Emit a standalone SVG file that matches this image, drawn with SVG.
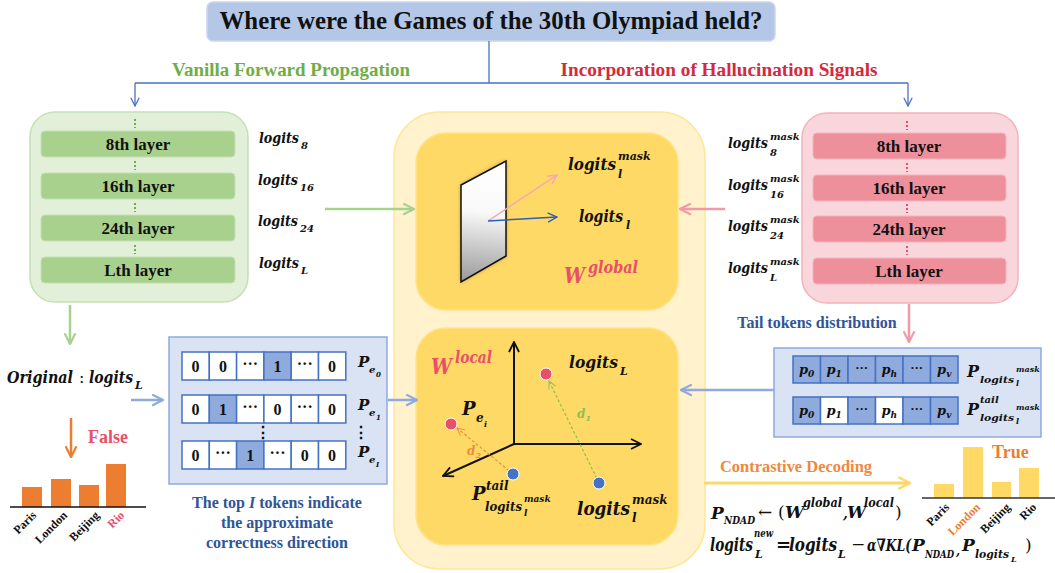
<svg xmlns="http://www.w3.org/2000/svg" width="1055" height="573" viewBox="0 0 1055 573">
<style>
.t{font-family:"Liberation Serif","Times New Roman",serif;font-weight:bold}
.m{font-family:"DejaVu Serif",serif;font-weight:bold;font-style:italic;fill:#111}
.c{text-anchor:middle}
.lay{fill:#111;font-size:17px}
.cell{fill:#fff;stroke:#4472C4;stroke-width:1.5}
.hl{fill:#8FAADC;stroke:#4472C4;stroke-width:1.5}
.num{font-size:16px;fill:#111;text-anchor:middle}
.bar-o{fill:#ED7D31}
.bar-y{fill:#FFD966}
.lbl{font-size:12px;fill:#111;text-anchor:end}
.red{fill:#E8506A}
</style>
<defs>
<marker id="aB" viewBox="0 0 12 12" refX="11" refY="6" markerWidth="10" markerHeight="10" orient="auto" markerUnits="userSpaceOnUse"><path d="M1,1 L11,6 L1,11" fill="none" stroke="#4472C4" stroke-width="1.5"/></marker>
<marker id="aG" viewBox="0 0 12 12" refX="11" refY="6" markerWidth="13" markerHeight="13" orient="auto" markerUnits="userSpaceOnUse"><path d="M1,1 L11,6 L1,11" fill="none" stroke="#A9D18E" stroke-width="2"/></marker>
<marker id="aP" viewBox="0 0 12 12" refX="11" refY="6" markerWidth="13" markerHeight="13" orient="auto" markerUnits="userSpaceOnUse"><path d="M1,1 L11,6 L1,11" fill="none" stroke="#F19AA5" stroke-width="2"/></marker>
<marker id="aL" viewBox="0 0 12 12" refX="11" refY="6" markerWidth="13" markerHeight="13" orient="auto" markerUnits="userSpaceOnUse"><path d="M1,1 L11,6 L1,11" fill="none" stroke="#8FAADC" stroke-width="2"/></marker>
<marker id="aO" viewBox="0 0 12 12" refX="11" refY="6" markerWidth="13" markerHeight="13" orient="auto" markerUnits="userSpaceOnUse"><path d="M1,1 L11,6 L1,11" fill="none" stroke="#ED7D31" stroke-width="2"/></marker>
<marker id="aY" viewBox="0 0 12 12" refX="11" refY="6" markerWidth="14" markerHeight="14" orient="auto" markerUnits="userSpaceOnUse"><path d="M1,1 L11,6 L1,11" fill="none" stroke="#FFD966" stroke-width="2"/></marker>
<marker id="aK" viewBox="0 0 12 12" refX="11" refY="6" markerWidth="12" markerHeight="12" orient="auto" markerUnits="userSpaceOnUse"><path d="M1,1 L11,6 L1,11" fill="none" stroke="#111" stroke-width="1.8"/></marker>
<marker id="aV1" viewBox="0 0 12 12" refX="11" refY="6" markerWidth="11" markerHeight="11" orient="auto" markerUnits="userSpaceOnUse"><path d="M1,1 L11,6 L1,11" fill="none" stroke="#F4A6B4" stroke-width="1.5"/></marker>
<marker id="aV2" viewBox="0 0 12 12" refX="11" refY="6" markerWidth="11" markerHeight="11" orient="auto" markerUnits="userSpaceOnUse"><path d="M1,1 L11,6 L1,11" fill="none" stroke="#2F5FB0" stroke-width="1.5"/></marker>
<marker id="aD1" viewBox="0 0 12 12" refX="11" refY="6" markerWidth="9" markerHeight="9" orient="auto" markerUnits="userSpaceOnUse"><path d="M1,1 L11,6 L1,11" fill="none" stroke="#8CC152" stroke-width="1.3"/></marker>
<marker id="aD2" viewBox="0 0 12 12" refX="11" refY="6" markerWidth="9" markerHeight="9" orient="auto" markerUnits="userSpaceOnUse"><path d="M1,1 L11,6 L1,11" fill="none" stroke="#F08C3C" stroke-width="1.3"/></marker>
<linearGradient id="mirrorShade" gradientUnits="userSpaceOnUse" x1="484" y1="165" x2="472" y2="282"><stop offset="0" stop-color="#888888" stop-opacity="0"/><stop offset="0.4" stop-color="#888888" stop-opacity="0.05"/><stop offset="1" stop-color="#888888" stop-opacity="0.85"/></linearGradient>
<filter id="blur" x="-30%" y="-30%" width="160%" height="160%"><feGaussianBlur stdDeviation="2"/></filter>
</defs>

<!-- Title -->
<g id="title">
<rect x="207" y="2" width="568" height="39" rx="6" fill="#B4C7E7" stroke="#C9D6EE" stroke-width="1.5"/>
<text class="t c" x="491" y="29" font-size="25" fill="#111" textLength="543" lengthAdjust="spacingAndGlyphs">Where were the Games of the 30th Olympiad held?</text>
</g>

<g id="branch-labels">
<text class="t c" x="291" y="76" font-size="19" fill="#70AD47" textLength="238" lengthAdjust="spacingAndGlyphs">Vanilla Forward Propagation</text>
<text class="t c" x="719" y="76" font-size="19" fill="#D42A3E" textLength="317" lengthAdjust="spacingAndGlyphs">Incorporation of Hallucination Signals</text>
</g>

<!-- Green model -->
<g id="vanilla-model">
<rect x="30" y="112" width="218" height="190" rx="25" fill="#E2F0D9" stroke="#C5E0B4" stroke-width="1.5"/>
<g fill="#A9D18E" stroke="#C5E0B4" stroke-width="1">
<rect x="41" y="131" width="194" height="26" rx="4"/>
<rect x="41" y="173" width="194" height="26" rx="4"/>
<rect x="41" y="215" width="194" height="26" rx="4"/>
<rect x="41" y="257" width="194" height="26" rx="4"/>
</g>
<g stroke="#70AD47" stroke-width="2" stroke-dasharray="2,2">
<line x1="135" y1="119" x2="135" y2="128"/>
<line x1="135" y1="161" x2="135" y2="170"/>
<line x1="135" y1="203" x2="135" y2="212"/>
<line x1="135" y1="245" x2="135" y2="254"/>
</g>
<text class="t c lay" x="138" y="150">8th layer</text>
<text class="t c lay" x="138" y="192">16th layer</text>
<text class="t c lay" x="138" y="234">24th layer</text>
<text class="t c lay" x="138" y="276">Lth layer</text>
</g>

<g id="vanilla-logits">
<text class="m" x="259" y="143" font-size="15" textLength="40" lengthAdjust="spacingAndGlyphs">logits</text><text class="m" x="301" y="149" font-size="10">8</text>
<text class="m" x="258" y="185" font-size="15" textLength="40" lengthAdjust="spacingAndGlyphs">logits</text><text class="m" x="300" y="191" font-size="10">16</text>
<text class="m" x="258" y="226" font-size="15" textLength="40" lengthAdjust="spacingAndGlyphs">logits</text><text class="m" x="300" y="232" font-size="10">24</text>
<text class="m" x="259" y="268" font-size="15" textLength="40" lengthAdjust="spacingAndGlyphs">logits</text><text class="m" x="301" y="274" font-size="10">L</text>
</g>

<!-- Pink model -->
<g id="mask-model">
<rect x="802" y="113" width="216" height="190" rx="25" fill="#F9D6DB" stroke="#F4B3BC" stroke-width="1.5"/>
<g fill="#EE909C" stroke="#F4B3BC" stroke-width="1">
<rect x="813" y="133" width="193" height="26" rx="4"/>
<rect x="813" y="175" width="193" height="26" rx="4"/>
<rect x="813" y="216" width="193" height="26" rx="4"/>
<rect x="813" y="258" width="193" height="26" rx="4"/>
</g>
<g stroke="#E8506A" stroke-width="2" stroke-dasharray="2,2">
<line x1="907" y1="121" x2="907" y2="130"/>
<line x1="907" y1="163" x2="907" y2="172"/>
<line x1="907" y1="204" x2="907" y2="213"/>
<line x1="907" y1="246" x2="907" y2="255"/>
</g>
<text class="t c lay" x="909" y="152">8th layer</text>
<text class="t c lay" x="909" y="194">16th layer</text>
<text class="t c lay" x="909" y="235">24th layer</text>
<text class="t c lay" x="909" y="277">Lth layer</text>
</g>

<g id="mask-logits">
<text class="m" x="728" y="148" font-size="15" textLength="40" lengthAdjust="spacingAndGlyphs">logits</text><text class="m" x="770" y="140" font-size="10">mask</text><text class="m" x="770" y="156" font-size="10">8</text>
<text class="m" x="728" y="190" font-size="15" textLength="40" lengthAdjust="spacingAndGlyphs">logits</text><text class="m" x="770" y="182" font-size="10">mask</text><text class="m" x="770" y="198" font-size="10">16</text>
<text class="m" x="728" y="231" font-size="15" textLength="40" lengthAdjust="spacingAndGlyphs">logits</text><text class="m" x="770" y="223" font-size="10">mask</text><text class="m" x="770" y="239" font-size="10">24</text>
<text class="m" x="728" y="273" font-size="15" textLength="40" lengthAdjust="spacingAndGlyphs">logits</text><text class="m" x="770" y="265" font-size="10">mask</text><text class="m" x="770" y="281" font-size="10">L</text>
</g>

<!-- Center container -->
<g id="ndad-core">
<rect x="394" y="112" width="311" height="457" rx="45" fill="#FFF2CC" stroke="#FFE699" stroke-width="1.5"/>
</g>

<g id="global-panel">
<rect x="416" y="133" width="262" height="177" rx="30" fill="#FFD966" stroke="#FFE38A" stroke-width="1.5"/>
<polygon points="461,185 506,161 506,256 461,282" fill="#000000" fill-opacity="0.35" filter="url(#blur)"/>
<polygon points="461,185 506,161 506,256 461,282" fill="#FFFFFF"/>
<polygon points="461,185 506,161 506,256 461,282" fill="url(#mirrorShade)" stroke="#111" stroke-width="1.5"/>
<line x1="488" y1="221" x2="557" y2="175" stroke="#F4A6B4" stroke-width="1.5" marker-end="url(#aV1)"/>
<line x1="488" y1="221" x2="557" y2="217" stroke="#2F5FB0" stroke-width="1.5" marker-end="url(#aV2)"/>
<text class="m" x="568" y="170" font-size="17" textLength="48" lengthAdjust="spacingAndGlyphs">logits</text><text class="m" x="618" y="160" font-size="11">mask</text><text class="m" x="618" y="178" font-size="11">l</text>
<text class="m" x="579" y="222" font-size="17" textLength="44" lengthAdjust="spacingAndGlyphs">logits</text><text class="m" x="626" y="229" font-size="11">l</text>
<text class="m red" x="564" y="283" font-size="23" textLength="21" lengthAdjust="spacingAndGlyphs" style="fill:#E8506A">W</text><text class="m red" x="588" y="273" font-size="16" style="fill:#E8506A" textLength="50" lengthAdjust="spacingAndGlyphs">global</text>
</g>

<g id="local-panel">
<rect x="416" y="328" width="262" height="217" rx="30" fill="#FFD966" stroke="#FFE38A" stroke-width="1.5"/>
<line x1="514" y1="444" x2="514" y2="342" stroke="#111" stroke-width="2" marker-end="url(#aK)"/>
<line x1="514" y1="444" x2="641" y2="444" stroke="#111" stroke-width="2" marker-end="url(#aK)"/>
<line x1="514" y1="444" x2="443" y2="476" stroke="#111" stroke-width="2" marker-end="url(#aK)"/>
<line x1="599" y1="483" x2="549" y2="381" stroke="#8CC152" stroke-width="1.2" stroke-dasharray="3,2" marker-end="url(#aD1)"/>
<line x1="513" y1="474" x2="457" y2="428" stroke="#F08C3C" stroke-width="1.2" stroke-dasharray="3,2" marker-end="url(#aD2)"/>
<circle cx="546" cy="374" r="6" fill="#E8506A" stroke="#fff" stroke-width="1"/>
<circle cx="451" cy="424" r="6" fill="#E8506A" stroke="#fff" stroke-width="1"/>
<circle cx="513" cy="474" r="6" fill="#4472C4" stroke="#fff" stroke-width="1"/>
<circle cx="599" cy="483" r="6" fill="#4472C4" stroke="#fff" stroke-width="1"/>
<text class="m" x="577" y="418" font-size="12" style="fill:#8CC152">d<tspan font-size="8" dy="3">1</tspan></text>
<text class="m" x="467" y="455" font-size="12" style="fill:#F08C3C">d<tspan font-size="8" dy="3">2</tspan></text>
<text class="m" x="431" y="374" font-size="23" textLength="21" lengthAdjust="spacingAndGlyphs" style="fill:#E8506A">W</text><text class="m" x="455" y="363" font-size="16" style="fill:#E8506A" textLength="37" lengthAdjust="spacingAndGlyphs">local</text>
<text class="m" x="569" y="368" font-size="17" textLength="49" lengthAdjust="spacingAndGlyphs">logits</text><text class="m" x="620" y="375" font-size="11">L</text>
<text class="m" x="462" y="415" font-size="18">P</text><text class="m" x="476" y="422" font-size="12">e</text><text class="m" x="484" y="427" font-size="8">i</text>
<text class="m" x="472" y="500" font-size="18">P</text><text class="m" x="486" y="490" font-size="12">tail</text><text class="m" x="485" y="511" font-size="12" textLength="37" lengthAdjust="spacingAndGlyphs">logits</text><text class="m" x="524" y="502" font-size="9">mask</text><text class="m" x="524" y="516" font-size="9">l</text>
<text class="m" x="577" y="515" font-size="19" textLength="53" lengthAdjust="spacingAndGlyphs">logits</text><text class="m" x="632" y="504" font-size="12">mask</text><text class="m" x="632" y="522" font-size="12">l</text>
</g>

<!-- Top-I tokens box -->
<g id="top-tokens">
<rect x="169" y="337" width="218" height="147" fill="#DAE3F3" stroke="#8FAADC" stroke-width="1.5"/>
<rect class="cell" x="182" y="352" width="27.3" height="28"/><rect class="cell" x="209.3" y="352" width="27.3" height="28"/><rect class="cell" x="236.6" y="352" width="27.3" height="28"/><rect class="hl" x="263.9" y="352" width="27.3" height="28"/><rect class="cell" x="291.2" y="352" width="27.3" height="28"/><rect class="cell" x="318.5" y="352" width="27.3" height="28"/>
<rect class="cell" x="182" y="395" width="27.3" height="28"/><rect class="hl" x="209.3" y="395" width="27.3" height="28"/><rect class="cell" x="236.6" y="395" width="27.3" height="28"/><rect class="cell" x="263.9" y="395" width="27.3" height="28"/><rect class="cell" x="291.2" y="395" width="27.3" height="28"/><rect class="cell" x="318.5" y="395" width="27.3" height="28"/>
<rect class="cell" x="182" y="441" width="27.3" height="28"/><rect class="cell" x="209.3" y="441" width="27.3" height="28"/><rect class="hl" x="236.6" y="441" width="27.3" height="28"/><rect class="cell" x="263.9" y="441" width="27.3" height="28"/><rect class="cell" x="291.2" y="441" width="27.3" height="28"/><rect class="cell" x="318.5" y="441" width="27.3" height="28"/>
<g class="t">
<text class="num" x="195.6" y="372">0</text><text class="num" x="222.9" y="372">0</text><text class="num" x="250.2" y="369">···</text><text class="num" x="277.5" y="372">1</text><text class="num" x="304.8" y="369">···</text><text class="num" x="332.1" y="372">0</text>
<text class="num" x="195.6" y="415">0</text><text class="num" x="222.9" y="415">1</text><text class="num" x="250.2" y="412">···</text><text class="num" x="277.5" y="415">0</text><text class="num" x="304.8" y="412">···</text><text class="num" x="332.1" y="415">0</text>
<text class="num" x="195.6" y="461">0</text><text class="num" x="222.9" y="458">···</text><text class="num" x="250.2" y="461">1</text><text class="num" x="277.5" y="458">···</text><text class="num" x="304.8" y="461">0</text><text class="num" x="332.1" y="461">0</text>
</g>
<text class="t" x="263" y="438" font-size="16" fill="#111" text-anchor="middle">⋮</text>
<text class="t" x="361" y="438" font-size="16" fill="#111" text-anchor="middle">⋮</text>
<text class="m" x="358" y="367" font-size="15">P</text><text class="m" x="369" y="373" font-size="10">e</text><text class="m" x="376" y="377" font-size="7">0</text>
<text class="m" x="358" y="410" font-size="15">P</text><text class="m" x="369" y="416" font-size="10">e</text><text class="m" x="376" y="420" font-size="7">1</text>
<text class="m" x="358" y="457" font-size="15">P</text><text class="m" x="369" y="463" font-size="10">e</text><text class="m" x="376" y="467" font-size="7">I</text>
<text class="t c" x="277" y="508" font-size="16" fill="#2F5597">The top <tspan font-style="italic">I</tspan>  tokens indicate</text>
<text class="t c" x="277" y="528" font-size="16" fill="#2F5597">the approximate</text>
<text class="t c" x="277" y="548" font-size="16" fill="#2F5597">correctness direction</text>
</g>

<!-- Tail tokens box -->
<g id="tail-tokens">
<text class="t c" x="817" y="328" font-size="16" fill="#2F5597">Tail tokens distribution</text>
<rect x="774" y="348" width="267" height="89" fill="#DAE3F3" stroke="#8FAADC" stroke-width="1.5"/>
<rect class="hl" x="793" y="356" width="27.5" height="27"/><rect class="hl" x="820.5" y="356" width="27.5" height="27"/><rect class="hl" x="848" y="356" width="27.5" height="27"/><rect class="hl" x="875.5" y="356" width="27.5" height="27"/><rect class="hl" x="903" y="356" width="27.5" height="27"/><rect class="hl" x="930.5" y="356" width="27.5" height="27"/>
<rect class="hl" x="793" y="397" width="27.5" height="27"/><rect class="cell" x="820.5" y="397" width="27.5" height="27"/><rect class="hl" x="848" y="397" width="27.5" height="27"/><rect class="cell" x="875.5" y="397" width="27.5" height="27"/><rect class="hl" x="903" y="397" width="27.5" height="27"/><rect class="hl" x="930.5" y="397" width="27.5" height="27"/>
<g font-size="13">
<text class="m c" x="806.7" y="374">p<tspan font-size="9" dy="3">0</tspan></text><text class="m c" x="834.2" y="374">p<tspan font-size="9" dy="3">1</tspan></text><text class="t c" x="861.7" y="372" fill="#111">···</text><text class="m c" x="889.2" y="374">p<tspan font-size="9" dy="3">h</tspan></text><text class="t c" x="916.7" y="372" fill="#111">···</text><text class="m c" x="944.2" y="374">p<tspan font-size="9" dy="3">v</tspan></text>
<text class="m c" x="806.7" y="415">p<tspan font-size="9" dy="3">0</tspan></text><text class="m c" x="834.2" y="415">p<tspan font-size="9" dy="3">1</tspan></text><text class="t c" x="861.7" y="413" fill="#111">···</text><text class="m c" x="889.2" y="415">p<tspan font-size="9" dy="3">h</tspan></text><text class="t c" x="916.7" y="413" fill="#111">···</text><text class="m c" x="944.2" y="415">p<tspan font-size="9" dy="3">v</tspan></text>
</g>
<text class="m" x="967" y="377" font-size="16">P</text><text class="m" x="980" y="383" font-size="10" textLength="34" lengthAdjust="spacingAndGlyphs">logits</text><text class="m" x="1016" y="372" font-size="8">mask</text><text class="m" x="1016" y="386" font-size="8">l</text>
<text class="m" x="967" y="415" font-size="16">P</text><text class="m" x="980" y="403" font-size="10">tail</text><text class="m" x="980" y="421" font-size="10" textLength="34" lengthAdjust="spacingAndGlyphs">logits</text><text class="m" x="1016" y="410" font-size="8">mask</text><text class="m" x="1016" y="424" font-size="8">l</text>
</g>

<!-- Original chart -->
<g id="original-chart">
<text class="m" x="7" y="383" font-size="16" textLength="66" lengthAdjust="spacingAndGlyphs">Original</text><text x="79" y="383" font-size="16" font-family="DejaVu Serif, serif" fill="#111">:</text>
<text class="m" x="89" y="383" font-size="16" textLength="44" lengthAdjust="spacingAndGlyphs">logits</text><text class="m" x="135" y="389" font-size="11">L</text>
<text class="t" x="88" y="443" font-size="18" fill="#E8506A">False</text>
<rect class="bar-o" x="22" y="487" width="20" height="20"/>
<rect class="bar-o" x="51" y="479" width="20" height="28"/>
<rect class="bar-o" x="79" y="485" width="20" height="22"/>
<rect class="bar-o" x="106" y="464" width="20" height="43"/>
<line x1="10" y1="507" x2="146" y2="507" stroke="#111" stroke-width="1.5"/>
<text class="t lbl" transform="translate(37,516) rotate(-45)">Paris</text>
<text class="t lbl" transform="translate(68,516) rotate(-45)">London</text>
<text class="t lbl" transform="translate(100,516) rotate(-45)">Beijing</text>
<text class="t lbl" transform="translate(125,516) rotate(-45)" style="fill:#E8506A">Rio</text>
</g>

<!-- Result chart and formulas -->
<g id="result-chart">
<text class="t" x="720" y="472" font-size="17" fill="#F0883E" textLength="152" lengthAdjust="spacingAndGlyphs">Contrastive Decoding</text>
<text class="t" x="992" y="458" font-size="18" fill="#ED7D31">True</text>
<rect class="bar-y" x="934" y="484" width="20" height="14"/>
<rect class="bar-y" x="963" y="447" width="20" height="51"/>
<rect class="bar-y" x="992" y="482" width="19" height="16"/>
<rect class="bar-y" x="1019" y="468" width="20" height="30"/>
<line x1="922" y1="498" x2="1055" y2="498" stroke="#333" stroke-width="1.5"/>
<text class="t lbl" transform="translate(950,508) rotate(-45)">Paris</text>
<text class="t lbl" transform="translate(981,508) rotate(-45)" style="fill:#ED7D31">London</text>
<text class="t lbl" transform="translate(1011,508) rotate(-45)">Beijing</text>
<text class="t lbl" transform="translate(1037,508) rotate(-45)">Rio</text>
</g>

<g id="formulas">
<text class="m" x="711" y="519" font-size="17">P</text><text class="m" x="724" y="524" font-size="11" textLength="31" lengthAdjust="spacingAndGlyphs">NDAD</text>
<text x="758" y="518" font-size="17" font-family="DejaVu Serif, serif" fill="#111">←</text>
<text x="778" y="518" font-size="17" font-family="DejaVu Serif, serif" fill="#111">(</text>
<text class="m" x="785" y="518" font-size="17">W</text><text class="m" x="803" y="507" font-size="12" textLength="39" lengthAdjust="spacingAndGlyphs">global</text><text class="m" x="843" y="518" font-size="14">,</text>
<text class="m" x="847" y="518" font-size="17">W</text><text class="m" x="864" y="507" font-size="12" textLength="30" lengthAdjust="spacingAndGlyphs">local</text>
<text x="895" y="518" font-size="17" font-family="DejaVu Serif, serif" fill="#111">)</text>
<text class="m" x="710" y="551" font-size="18" textLength="43" lengthAdjust="spacingAndGlyphs">logits</text><text class="m" x="754" y="537" font-size="11" textLength="19" lengthAdjust="spacingAndGlyphs">new</text><text class="m" x="755" y="558" font-size="11">L</text>
<text class="m" x="776" y="551" font-size="18">=</text>
<text class="m" x="789" y="551" font-size="18" textLength="48" lengthAdjust="spacingAndGlyphs">logits</text><text class="m" x="838" y="558" font-size="11">L</text>
<text x="851" y="550" font-size="17" font-family="DejaVu Serif, serif" fill="#111">−</text>
<text class="m" x="867" y="551" font-size="17" textLength="44" lengthAdjust="spacingAndGlyphs">α∇KL(</text>
<text class="m" x="912" y="551" font-size="17">P</text><text class="m" x="925" y="558" font-size="11" textLength="29" lengthAdjust="spacingAndGlyphs">NDAD</text><text class="m" x="956" y="555" font-size="12">,</text>
<text class="m" x="962" y="551" font-size="17">P</text><text class="m" x="975" y="558" font-size="11" textLength="34" lengthAdjust="spacingAndGlyphs">logits</text><text class="m" x="1011" y="562" font-size="8">L</text>
<text x="1025" y="551" font-size="17" font-family="DejaVu Serif, serif" fill="#111">)</text>
</g>

<!-- Connectors -->
<g id="connectors" fill="none">
<polyline points="489,41 489,83" stroke="#4472C4" stroke-width="1.3"/>
<polyline points="135,83 908,83" stroke="#4472C4" stroke-width="1.3"/>
<line x1="135" y1="83" x2="135" y2="106" stroke="#4472C4" stroke-width="1.3" marker-end="url(#aB)"/>
<line x1="908" y1="83" x2="908" y2="106" stroke="#4472C4" stroke-width="1.3" marker-end="url(#aB)"/>
<line x1="325" y1="209" x2="414" y2="209" stroke="#A9D18E" stroke-width="2.5" marker-end="url(#aG)"/>
<line x1="725" y1="209" x2="680" y2="209" stroke="#F19AA5" stroke-width="2.5" marker-end="url(#aP)"/>
<line x1="70" y1="305" x2="70" y2="344" stroke="#A9D18E" stroke-width="2.5" marker-end="url(#aG)"/>
<line x1="909" y1="304" x2="909" y2="342" stroke="#F19AA5" stroke-width="2.5" marker-end="url(#aP)"/>
<line x1="131" y1="400" x2="163" y2="400" stroke="#8FAADC" stroke-width="2.5" marker-end="url(#aL)"/>
<line x1="388" y1="400" x2="417" y2="400" stroke="#8FAADC" stroke-width="2.5" marker-end="url(#aL)"/>
<line x1="774" y1="390" x2="681" y2="390" stroke="#8FAADC" stroke-width="2.5" marker-end="url(#aL)"/>
<line x1="71" y1="418" x2="71" y2="457" stroke="#ED7D31" stroke-width="2.5" marker-end="url(#aO)"/>
<line x1="704" y1="483" x2="910" y2="483" stroke="#FFD966" stroke-width="3" marker-end="url(#aY)"/>
</g>
</svg>
